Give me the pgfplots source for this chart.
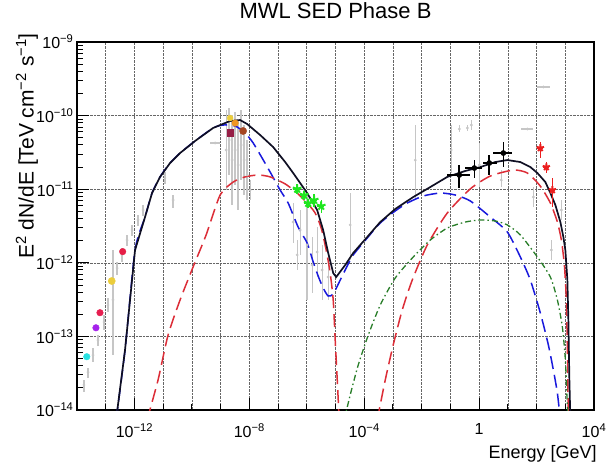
\documentclass[border=0pt]{standalone}
\usepackage{fontspec}
\setmainfont{Liberation Sans}
\usepackage{pgfplots}
\usepackage{pgfplotstable}
\pgfplotsset{compat=1.18}

\definecolor{lgray}{RGB}{198,198,198}
\definecolor{curveblack}{RGB}{15,15,35}
\definecolor{curveblue}{RGB}{25,25,220}
\definecolor{curvered}{RGB}{220,45,55}
\definecolor{curvegreen}{RGB}{40,125,40}
\definecolor{ptcyan}{RGB}{40,225,225}
\definecolor{ptpurple}{RGB}{165,35,235}
\definecolor{ptcrimson}{RGB}{230,30,80}
\definecolor{ptyellow}{RGB}{235,205,60}
\definecolor{ptred}{RGB}{230,30,70}
\definecolor{ptorange}{RGB}{240,150,35}
\definecolor{ptmaroon}{RGB}{150,30,70}
\definecolor{ptbrown}{RGB}{165,70,35}
\definecolor{ptgreen}{RGB}{30,230,30}
\definecolor{ptredvhe}{RGB}{235,30,30}

% archival points: x, y, upper and lower end of the error bar
\pgfplotstableread{
x        y        yh       yl
1.75e-14 2.19e-14 2.56e-14 1.76e-14
2.42e-14 3.28e-14 3.72e-14 2.72e-14
3.61e-14 5.58e-14 6.95e-14 4.49e-14
5.39e-14 8.93e-14 1.04e-13 7.41e-14
8.73e-14 1.57e-13 1.95e-13 1.22e-13
1.20e-13 2.67e-13 3.33e-13 2.15e-13
1.79e-13 3.13e-13 1.49e-12 5.58e-14
2.48e-13 8.49e-13 1.03e-12 6.82e-13
3.70e-13 1.28e-12 1.59e-12 1.03e-12
5.52e-13 2.04e-12 2.39e-12 1.69e-12
8.24e-13 2.79e-12 3.27e-12 2.31e-12
1.33e-12 3.82e-12 4.46e-12 3.16e-12
2.00e-12 5.21e-12 6.10e-12 4.33e-12
2.21e-11 7.13e-12 8.34e-12 5.56e-12
1.16e-11 1.42e-11 1.71e-11 1.18e-11
1.56e-9  3.41e-11 1.19e-10 9.75e-12
1.98e-9  4.66e-11 1.27e-10 1.56e-11
2.52e-9  2.49e-11 1.02e-10 6.10e-12
3.20e-9  3.41e-11 1.12e-10 1.14e-11
4.07e-9  2.13e-11 8.71e-11 5.21e-12
5.18e-9  3.99e-11 1.19e-10 1.33e-11
6.59e-9  2.49e-11 7.45e-11 8.34e-12
8.38e-9  1.56e-11 4.66e-11 7.13e-12
1.07e-8  9.75e-12 1.33e-11 7.13e-12
3.36e-7  3.58e-12 6.49e-12 1.86e-12
4.63e-7  1.28e-12 2.04e-12 7.98e-13
5.89e-7  2.79e-12 5.21e-12 1.28e-12
1.03e-6  1.75e-12 8.87e-12 3.13e-13
1.54e-6  9.33e-13 2.24e-12 3.89e-13
2.30e-6  1.40e-12 3.06e-12 6.41e-13
3.44e-6  7.98e-13 1.75e-12 3.13e-13
5.57e-6  6.41e-13 1.36e-12 3.13e-13
3.25e-5  3.27e-12 8.87e-12 1.09e-12
5.98e-3  2.49e-11 7.45e-11 7.13e-12
0.107    3.41e-11 7.45e-11 1.66e-11
0.204    6.58e-11 7.45e-11 5.98e-11
0.388    6.79e-11 7.45e-11 6.18e-11
0.535    7.45e-11 8.71e-11 6.37e-11
1.02     2.13e-11 4.25e-11 1.07e-11
5.94     1.33e-11 1.82e-11 1.07e-11
77.4     7.83e-12 1.07e-11 5.73e-12
731      5.21e-12 7.13e-12 3.82e-12
328      1.49e-12 2.04e-12 1.09e-12
}\archival

\begin{document}
\begin{tikzpicture}
% grid only (its own axis, so that the grid style does not reach the ticks)
\begin{axis}[
  scale only axis, width=517pt, height=368pt,
  xmode=log, ymode=log,
  xmin=1e-14, xmax=1e4, ymin=1e-14, ymax=1e-9,
  xtick={1e-12,1e-8,1e-4,1,1e4},
  minor xtick={1e-13,1e-11,1e-10,1e-9,1e-7,1e-6,1e-5,1e-3,1e-2,1e-1,10,100,1000},
  ytick={1e-14,1e-13,1e-12,1e-11,1e-10,1e-9},
  axis line style={draw=none},
  major tick length=0pt, minor tick length=0pt,
  xticklabels={}, yticklabels={},
  xmajorgrids, xminorgrids, ymajorgrids,
  major grid style={densely dotted, black!60, line width=0.6pt},
  minor grid style={densely dotted, black!60, line width=0.6pt},
]
\addplot[draw=none] coordinates {(1,1e-11)};
\end{axis}
% frame, ticks, labels and data
\begin{axis}[
  scale only axis, width=517pt, height=368pt,
  xmode=log, ymode=log,
  xmin=1e-14, xmax=1e4, ymin=1e-14, ymax=1e-9,
  xtick={1e-12,1e-8,1e-4,1,1e4},
  minor xtick={1e-13,1e-11,1e-10,1e-9,1e-7,1e-6,1e-5,1e-3,1e-2,1e-1,10,100,1000},
  ytick={1e-14,1e-13,1e-12,1e-11,1e-10,1e-9},
  axis line style={line width=1.1pt},
  tick align=inside, xtick pos=left, ytick pos=left,
  major tick length=12pt, minor tick length=6pt,
  every major tick/.append style={line width=1pt, draw=black},
  every minor tick/.append style={line width=0.9pt, draw=black},
  xticklabels={10\textsuperscript{−12},10\textsuperscript{−8},10\textsuperscript{−4},1,10\textsuperscript{4}},
  yticklabels={10\textsuperscript{−14},10\textsuperscript{−13},10\textsuperscript{−12},10\textsuperscript{−11},10\textsuperscript{−10},10\textsuperscript{−9}},
  minor ytick={2e-14,3e-14,4e-14,5e-14,6e-14,7e-14,8e-14,9e-14,
               2e-13,3e-13,4e-13,5e-13,6e-13,7e-13,8e-13,9e-13,
               2e-12,3e-12,4e-12,5e-12,6e-12,7e-12,8e-12,9e-12,
               2e-11,3e-11,4e-11,5e-11,6e-11,7e-11,8e-11,9e-11,
               2e-10,3e-10,4e-10,5e-10,6e-10,7e-10,8e-10,9e-10},
  ticklabel style={font=\fontsize{16}{16}\selectfont},
  xticklabel style={yshift=-10pt},
  title={MWL SED Phase B},
  title style={at={(axis description cs:0.5,1.068)}, anchor=center, font=\fontsize{22}{22}\selectfont},
  xlabel={Energy [GeV]},
  xlabel style={at={(axis description cs:1.012,-0.088)}, anchor=north east, font=\fontsize{18}{18}\selectfont},
  ylabel={E\textsuperscript{2} dN/dE [TeV cm\textsuperscript{−2} s\textsuperscript{−1}]},
  ylabel style={at={(axis description cs:-0.097,1.033)}, anchor=east, font=\fontsize{21}{21}\selectfont},
]

% archival data (grey)
\addplot[only marks, mark=*, mark size=1.2pt, color=lgray,
  error bars/.cd, y dir=both, y explicit,
  error bar style={line width=1.3pt, lgray}, error mark=none]
  table[x=x, y=y, y error plus expr=\thisrow{yh}-\thisrow{y},
        y error minus expr=\thisrow{y}-\thisrow{yl}] {\archival};
\addplot[only marks, mark=*, mark size=1.2pt, color=lgray,
  error bars/.cd, x dir=both, x explicit,
  error bar style={line width=1.2pt, lgray}, error mark=none]
  coordinates {
  (6.43e-10,4.25e-11) += (3.19e-10,0) -= (2.12e-10,0)
  (173,2.45e-10) += (130,0) -= (66,0)
  (47.8,6.58e-11) += (29.6,0) -= (18.3,0)
  };

% model curves
\addplot[curveblue, line width=1.5pt, dash pattern=on 13pt off 6pt, smooth, tension=0.4] coordinates {
  (2.29e-13,7.31e-15) (4.70e-13,6.53e-14) (1.05e-12,1.49e-12) (2.34e-12,4.19e-12)
  (4.10e-12,8.87e-12) (7.80e-12,1.47e-11) (1.74e-11,2.27e-11) (3.88e-11,3.10e-11)
  (1.29e-10,4.52e-11) (5.48e-10,6.79e-11) (1.22e-9,7.45e-11) (3.20e-9,7.23e-11)
  (7.14e-9,5.81e-11) (1.36e-8,4.25e-11) (2.79e-8,2.65e-11) (5.31e-8,1.71e-11)
  (1.18e-7,9.75e-12) (2.25e-7,6.49e-12) (5.01e-7,3.06e-12) (1.03e-6,1.86e-12)
  (1.67e-6,1.03e-12) (2.49e-6,6.62e-13) (3.72e-6,4.55e-13) (5.57e-6,3.54e-13)
  (8.32e-6,3.77e-13) (1.46e-5,5.83e-13) (2.56e-5,9.06e-13) (4.14e-5,1.28e-12)
  (1.27e-4,2.17e-12) (3.61e-4,3.48e-12) (1.20e-3,5.06e-12) (3.15e-3,6.49e-12)
  (1.14e-2,8.09e-12) (4.45e-2,8.87e-12) (0.148,8.34e-12) (0.493,6.92e-12)
  (2.45,4.19e-12) (9.62,2.62e-12) (27.3,1.20e-12) (60.8,5.83e-13)
  (135.5,2.08e-13) (258,7.64e-14) (385,3.49e-14) (531,1.70e-14) (675,7.31e-15)
};
\addplot[curvered, line width=1.5pt, dash pattern=on 13pt off 6pt, smooth, tension=0.4] coordinates {
  (2.75e-12,7.31e-15) (6.64e-12,2.56e-14) (1.48e-11,1.04e-13) (3.88e-11,3.13e-13)
  (1.10e-10,8.77e-13) (3.13e-10,2.39e-12) (9.62e-10,8.34e-12) (2.73e-9,1.25e-11)
  (7.14e-9,1.47e-11) (2.03e-8,1.56e-11) (5.31e-8,1.47e-11) (1.77e-7,1.18e-11)
  (4.63e-7,8.87e-12) (1.03e-6,6.49e-12) (1.96e-6,4.75e-12) (3.18e-6,2.97e-12)
  (4.74e-6,1.49e-12) (6.53e-6,7.26e-13) (8.32e-6,3.13e-13) (9.77e-6,8.93e-14)
  (1.15e-5,2.56e-14) (1.35e-5,7.31e-15)
};
\addplot[curvered, line width=1.5pt, dash pattern=on 13pt off 6pt, smooth, tension=0.4] coordinates {
  (2.84e-4,7.31e-15) (5.40e-4,2.56e-14) (1.02e-3,7.64e-14) (2.11e-3,2.29e-13)
  (4.70e-3,5.83e-13) (1.57e-2,1.75e-12) (7.80e-2,4.75e-12) (0.493,1.01e-11)
  (2.45,1.51e-11) (15.6,1.82e-11) (47.8,1.66e-11) (135.5,1.10e-11)
  (303,6.49e-12) (531,3.58e-12) (731,2.04e-12) (931,9.33e-13)
  (1092,3.13e-13) (1183,6.53e-14) (1282,7.31e-15)
};
\addplot[curvegreen, line width=1.3pt, dash pattern=on 6pt off 3pt on 1.5pt off 3pt, smooth, tension=0.4] coordinates {
  (2.01e-5,7.31e-15) (3.25e-5,1.60e-14) (6.18e-5,4.08e-14) (1.38e-4,1.04e-13)
  (3.61e-4,2.67e-13) (1.20e-3,6.21e-13) (5.09e-3,1.20e-12) (2.00e-2,2.04e-12)
  (7.80e-2,2.97e-12) (0.330,3.58e-12) (1.10,3.82e-12) (3.66,3.70e-12)
  (9.62,3.27e-12) (27.3,2.39e-12) (107,1.20e-12) (303,6.41e-13)
  (531,3.13e-13) (793,1.34e-13) (1007,4.78e-14) (1183,1.10e-14) (1282,6.3e-15)
};
\addplot[curveblack, line width=1.7pt] coordinates {
  (2.29e-13,7.31e-15) (4.70e-13,6.53e-14) (1.05e-12,1.49e-12) (2.34e-12,4.19e-12)
  (4.10e-12,8.87e-12) (7.80e-12,1.47e-11) (1.74e-11,2.27e-11) (3.88e-11,3.10e-11)
  (1.29e-10,4.52e-11) (5.48e-10,6.79e-11) (2.14e-9,8.45e-11) (4.78e-9,8.71e-11)
  (8.38e-9,7.69e-11) (2.38e-8,5.45e-11) (6.75e-8,3.74e-11) (1.77e-7,2.34e-11)
  (3.36e-7,1.66e-11) (1.03e-6,8.87e-12) (2.30e-6,5.21e-12) (3.72e-6,2.79e-12)
  (5.57e-6,1.36e-12) (8.32e-6,7.26e-13) (1.06e-5,6.41e-13) (2.18e-5,9.33e-13)
  (4.14e-5,1.36e-12) (1.27e-4,2.24e-12) (3.61e-4,3.58e-12) (1.20e-3,5.38e-12)
  (5.09e-3,7.83e-12) (2.00e-2,1.07e-11) (7.80e-2,1.47e-11) (0.330,1.77e-11)
  (1.10,2.00e-11) (3.66,2.34e-11) (9.62,2.49e-11) (27.3,2.34e-11)
  (60.8,2.00e-11) (107,1.66e-11) (203,1.25e-11) (303,8.87e-12)
  (452,6.10e-12) (675,3.58e-12) (859,2.24e-12) (1007,1.49e-12)
  (1183,5.83e-13) (1282,1.67e-13) (1390,2.56e-14) (1507,7.31e-15)
};

% radio / infrared points
\addplot[only marks, mark=*, mark size=3.3pt, ptcyan] coordinates {(2.19e-14,5.30e-14)};
\addplot[only marks, mark=*, mark size=3.3pt, ptpurple] coordinates {(4.57e-14,1.31e-13)};
\addplot[only marks, mark=*, mark size=3.3pt, ptcrimson] coordinates {(6.31e-14,2.10e-13)};
\addplot[only marks, mark=*, mark size=3.6pt, ptyellow] coordinates {(1.62e-13,5.66e-13)};
\addplot[only marks, mark=*, mark size=3.3pt, ptred] coordinates {(3.89e-13,1.42e-12)};

% optical points
\addplot[only marks, mark=*, mark size=3pt, ptyellow] coordinates {(2.14e-9,9.27e-11)};
\addplot[only marks, mark=*, mark size=3.3pt, ptorange] coordinates {(3.20e-9,7.93e-11)};
\addplot[only marks, mark=square*, mark size=3.3pt, ptmaroon] coordinates {(2.14e-9,5.81e-11)};
\addplot[only marks, mark=*, mark size=3.6pt, ptbrown] coordinates {(6.08e-9,6.18e-11)};

% X-ray points
\addplot[only marks, mark=star, mark size=4.5pt, ptgreen, mark options={line width=2pt},
  error bars/.cd, x dir=both, x explicit relative, y dir=both, y explicit relative,
  error bar style={line width=1.4pt, ptgreen}, error mark=none]
  coordinates {
  (4.63e-7,1.01e-11) +- (0.28,0.15)
  (8.11e-7,8.34e-12) +- (0.28,0.15)
  (1.12e-6,6.49e-12) +- (0.28,0.15)
  (1.81e-6,7.13e-12) +- (0.28,0.2)
  (3.18e-6,5.92e-12) +- (0.28,0.2)
  };

% GeV points
\addplot[only marks, mark=*, mark size=2.6pt, black,
  error bars/.cd, x dir=both, x explicit, y dir=both, y explicit,
  error bar style={line width=1.6pt, black}, error mark=none]
  coordinates {
  (0.204,1.56e-11) += (0.289,0.57e-11) -= (0.126,0.52e-11)
  (0.681,1.94e-11) += (0.609,0.55e-11) -= (0.351,0.52e-11)
  (2.26,2.27e-11)  += (2.05,0.65e-11)  -= (0.86,0.71e-11)
  (6.97,3.10e-11)  += (7.43,1.28e-11)  -= (3.84,1.10e-11)
  };

% TeV points
\addplot[only marks, mark=star, mark size=3.8pt, ptredvhe, mark options={line width=2pt},
  error bars/.cd, x dir=both, x explicit, y dir=both, y explicit,
  error bar style={line width=1.4pt, ptredvhe}, error mark=none]
  coordinates {
  (135.5,3.63e-11) += (35,0.75e-11) -= (28,0.98e-11)
  (219,2.00e-11)   += (57,0.34e-11) -= (45,0.34e-11)
  (356,9.75e-12)   += (92,4.45e-12) -= (73,4.02e-12)
  };

\end{axis}
\pgfresetboundingbox
\path[use as bounding box] (-77pt,-55pt) rectangle (538pt,410pt);
\end{tikzpicture}
\end{document}
